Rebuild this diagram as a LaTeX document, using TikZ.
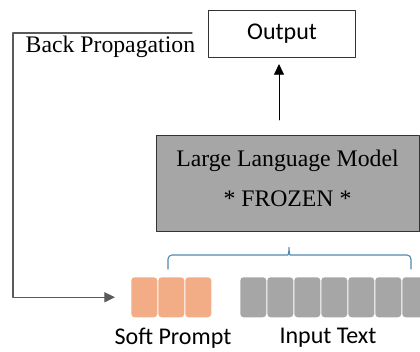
\documentclass[tikz,border=0pt]{standalone}
\usepackage{fontspec}
\setmainfont{Liberation Serif}
\newfontfamily\labelfont{Carlito}
\usetikzlibrary{arrows.meta}
\definecolor{frozengray}{HTML}{A6A6A6}
\definecolor{promptorange}{HTML}{F3AD86}
\definecolor{bracecol}{HTML}{5289AD}
\definecolor{linegray}{HTML}{5A5A5A}
\begin{document}
\begin{tikzpicture}[x=0.75pt, y=-0.75pt, line cap=round, line join=round,
  serif/.style={font=\fontsize{17.8}{21}\selectfont},
  sans/.style={font=\labelfont\fontsize{18}{22}\selectfont},
  box/.style={draw=black!80, line width=0.8pt, inner sep=0pt},
  token/.style={rounded corners=2.5pt, minimum width=19.5pt, minimum height=30pt, inner sep=0pt},
  tip/.style={-{Triangle[length=8pt,width=7.5pt]}}]
	\clip (0,0) rectangle (420,352);
	\node[box, sans, minimum width=110.25pt, minimum height=35.25pt, anchor=north west] (output) at (208,10) {Output};
	\node[box, fill=frozengray, minimum width=197.25pt, minimum height=72pt, anchor=north west] (llm) at (156,135) {};
	\node[serif, align=center] (llmtext) at (287.5,178) {Large Language Model\\[9pt]* FROZEN *};
	% prompt tokens and input tokens
	\foreach \i in {1,2,3}
		\node[token, fill=promptorange, anchor=north west] (sp\i) at ({131+27*(\i-1)},277) {};
	\foreach \i in {1,...,7}
		\node[token, fill=frozengray, anchor=north west] (in\i) at ({240+27*(\i-1)},277) {};
	\node[sans] (splabel) at (173,338) {Soft Prompt};
	\node[sans] (inlabel) at (328,338) {Input Text};
	\draw[bracecol, line width=0.8pt, rounded corners=3pt] (168,269) |- (284,255) to[out=0,in=-90] (289,245) to[out=-90,in=180] (294,255) -| (411,269);
	\path (279,120) coordinate (llmout)
	(192,33) coordinate (bpstart)
	(13,33) coordinate (bpcorner);
	\draw[tip, black, line width=0.7pt, shorten >=4.5pt] (llmout) -- (llmout |- output.south);
	\draw[tip, linegray, line width=0.9pt, shorten >=12pt] (bpstart) -- (bpcorner) |- (sp1.west);
	\node[serif, anchor=west] (bplabel) at (21,47) {Back Propagation};
\end{tikzpicture}
\end{document}
